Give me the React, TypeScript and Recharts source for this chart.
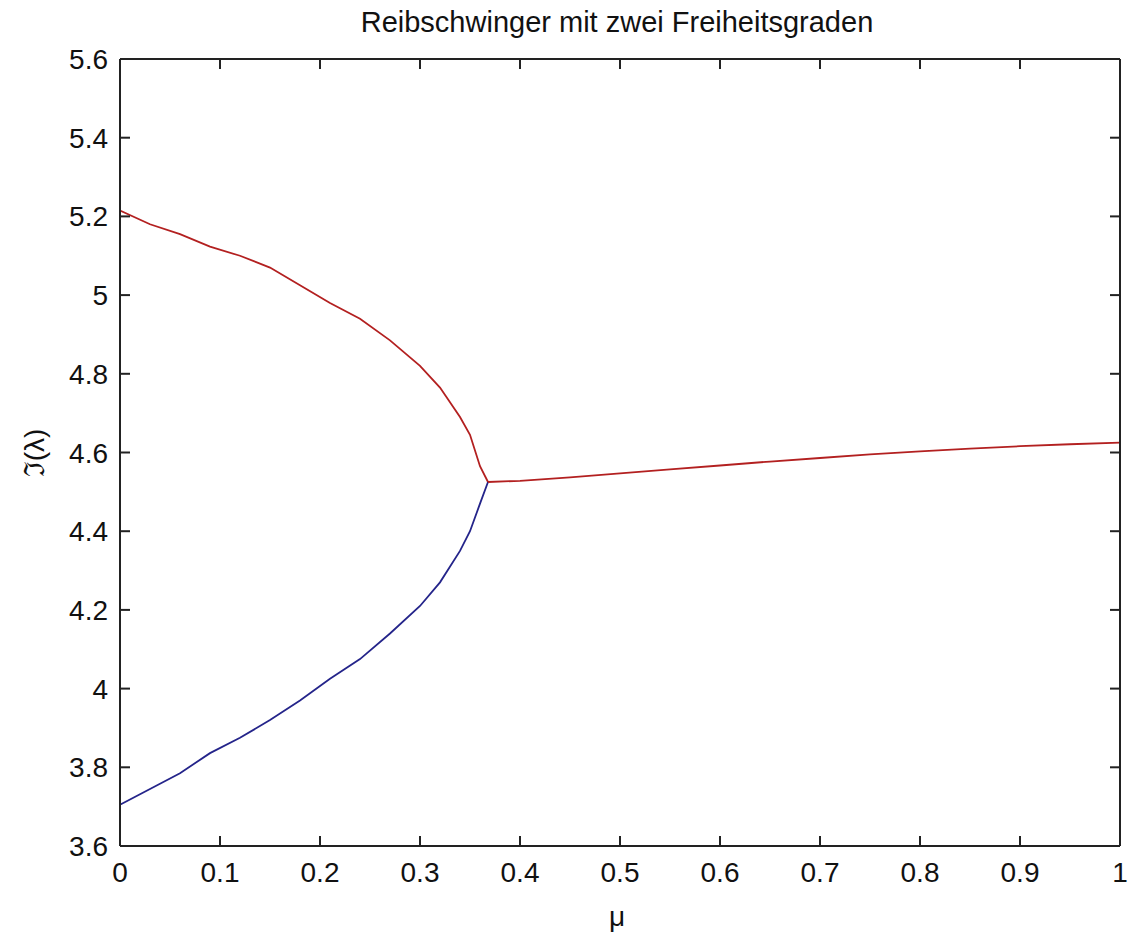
import React from 'react';
import { LineChart, Line, XAxis, YAxis } from 'recharts';

// μ on the x axis, imaginary part of the eigenvalue on the y axis
const upperMu = [0, 0.03, 0.06, 0.09, 0.12, 0.15, 0.18, 0.21, 0.24, 0.27, 0.3, 0.32, 0.34, 0.35, 0.36, 0.368];
const upperIm = [5.215, 5.18, 5.155, 5.123, 5.1, 5.07, 5.025, 4.98, 4.94, 4.885, 4.82, 4.765, 4.69, 4.645, 4.565, 4.525];

const lowerMu = [0, 0.03, 0.06, 0.09, 0.12, 0.15, 0.18, 0.21, 0.24, 0.27, 0.3, 0.32, 0.34, 0.35, 0.36, 0.368];
const lowerIm = [3.705, 3.745, 3.785, 3.836, 3.875, 3.92, 3.97, 4.025, 4.075, 4.14, 4.21, 4.27, 4.35, 4.4, 4.47, 4.525];

const mergedMu = [0.368, 0.4, 0.45, 0.5, 0.55, 0.6, 0.65, 0.7, 0.75, 0.8, 0.85, 0.9, 0.95, 1.0];
const mergedIm = [4.525, 4.528, 4.537, 4.547, 4.557, 4.567, 4.577, 4.586, 4.595, 4.603, 4.61, 4.616, 4.621, 4.625];

const xTicks = [0, 0.1, 0.2, 0.3, 0.4, 0.5, 0.6, 0.7, 0.8, 0.9, 1];
const yTicks = [3.6, 3.8, 4, 4.2, 4.4, 4.6, 4.8, 5, 5.2, 5.4, 5.6];

const title = 'Reibschwinger mit zwei Freiheitsgraden';
const xLabel = 'μ';
const yLabel = 'ℑ(λ)';

const toRows = (xs: number[], ys: number[]) => xs.map((mu, i) => ({ mu, im: ys[i] }));

const FONT = '"Liberation Sans", Arial, sans-serif';
const TICK_LEN = 10;
const INK = '#222';
const RED = '#b32020';
const BLUE = '#24248a';

function fmt(v: number) {
  return String(Number(v.toFixed(2)));
}

// ticks drawn inward like MATLAB, label outside
const BottomTick = (props: any) => {
  const { x, y, payload } = props;
  return (
    <g>
      <line x1={x} y1={y} x2={x} y2={y - TICK_LEN} stroke={INK} strokeWidth={2} />
      <text x={x} y={y + 36} textAnchor="middle" fontSize={28} fontFamily={FONT} fill="#111">
        {fmt(payload.value)}
      </text>
    </g>
  );
};

const LeftTick = (props: any) => {
  const { x, y, payload } = props;
  return (
    <g>
      <line x1={x} y1={y} x2={x + TICK_LEN} y2={y} stroke={INK} strokeWidth={2} />
      <text x={x - 12} y={y + 10} textAnchor="end" fontSize={28} fontFamily={FONT} fill="#111">
        {fmt(payload.value)}
      </text>
    </g>
  );
};

const TopTick = (props: any) => {
  const { x, y } = props;
  return <line x1={x} y1={y} x2={x} y2={y + TICK_LEN} stroke={INK} strokeWidth={2} />;
};

const RightTick = (props: any) => {
  const { x, y } = props;
  return <line x1={x} y1={y} x2={x - TICK_LEN} y2={y} stroke={INK} strokeWidth={2} />;
};

export default function App() {
  return (
    <div style={{ position: 'absolute', left: 0, top: 0, width: 1133, height: 935, background: '#fff' }}>
      <LineChart width={1133} height={935} margin={{ top: 58, right: 12, left: 0, bottom: 0 }}>
        <XAxis
          xAxisId="b"
          type="number"
          dataKey="mu"
          domain={[0, 1]}
          ticks={xTicks}
          height={89}
          tickSize={0}
          tickMargin={0}
          tick={<BottomTick />}
          axisLine={{ stroke: INK, strokeWidth: 2 }}
          allowDataOverflow
        />
        <XAxis
          xAxisId="t"
          orientation="top"
          type="number"
          dataKey="mu"
          domain={[0, 1]}
          ticks={xTicks}
          height={1}
          tickSize={0}
          tickMargin={0}
          tick={<TopTick />}
          axisLine={{ stroke: INK, strokeWidth: 2 }}
          allowDataOverflow
        />
        <YAxis
          yAxisId="l"
          type="number"
          domain={[3.6, 5.6]}
          ticks={yTicks}
          width={120}
          tickSize={0}
          tickMargin={0}
          tick={<LeftTick />}
          axisLine={{ stroke: INK, strokeWidth: 2 }}
          allowDataOverflow
        />
        <YAxis
          yAxisId="r"
          orientation="right"
          type="number"
          domain={[3.6, 5.6]}
          ticks={yTicks}
          width={1}
          tickSize={0}
          tickMargin={0}
          tick={<RightTick />}
          axisLine={{ stroke: INK, strokeWidth: 2 }}
          allowDataOverflow
        />
        <Line
          xAxisId="t"
          yAxisId="r"
          data={toRows(upperMu, upperIm)}
          dataKey="im"
          type="linear"
          stroke={RED}
          strokeWidth={1.8}
          dot={false}
          isAnimationActive={false}
        />
        <Line
          xAxisId="b"
          yAxisId="l"
          data={toRows(lowerMu, lowerIm)}
          dataKey="im"
          type="linear"
          stroke={BLUE}
          strokeWidth={1.8}
          dot={false}
          isAnimationActive={false}
        />
        <Line
          xAxisId="b"
          yAxisId="l"
          data={toRows(mergedMu, mergedIm)}
          dataKey="im"
          type="linear"
          stroke={RED}
          strokeWidth={1.8}
          dot={false}
          isAnimationActive={false}
        />
        <text x={617} y={32} textAnchor="middle" fontSize={29} fontFamily={FONT} fill="#111">
          {title}
        </text>
        <text x={617} y={926} textAnchor="middle" fontSize={28} fontFamily={FONT} fill="#111">
          {xLabel}
        </text>
        <text
          x={44}
          y={453}
          textAnchor="middle"
          fontSize={28}
          fontFamily={FONT}
          fill="#111"
          transform="rotate(-90 44 453)"
        >
          {yLabel}
        </text>
      </LineChart>
    </div>
  );
}
